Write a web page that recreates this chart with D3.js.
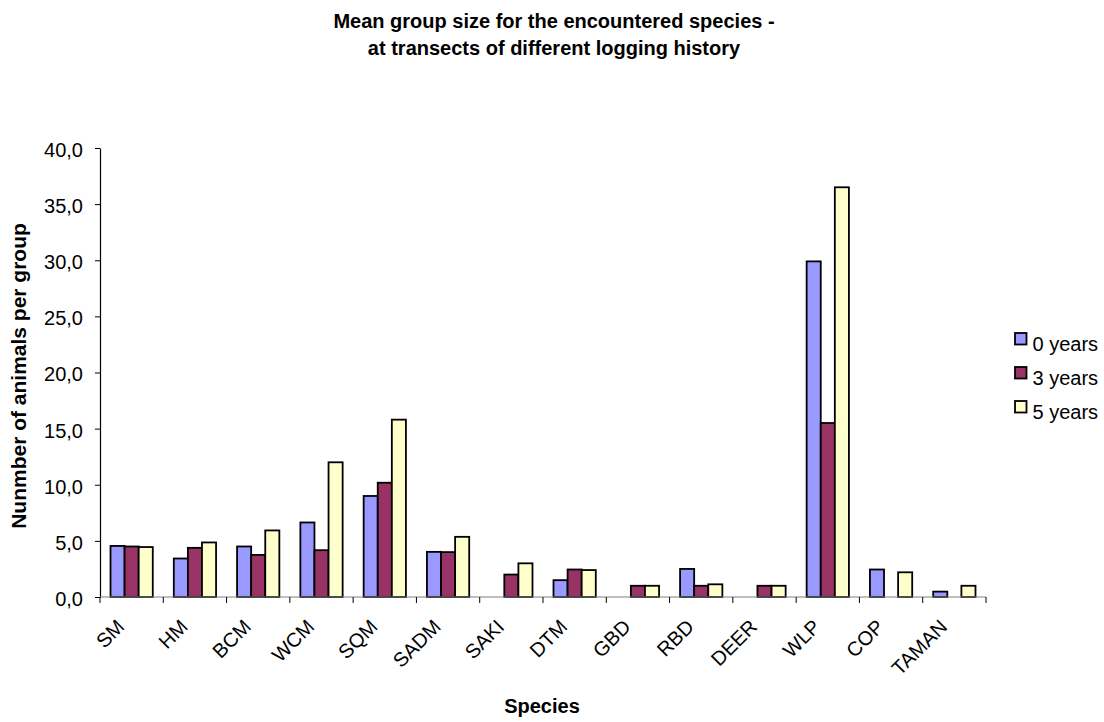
<!DOCTYPE html>
<html>
<head>
<meta charset="utf-8">
<script src="https://cdn.jsdelivr.net/npm/d3@7"></script>
<style>
    body { margin: 0; background: #fff; }
    svg { font-family: "Liberation Sans", Arial, sans-serif; }
</style>
</head>
<body>
<svg id="chart" width="1104" height="722"></svg>
<script>
// Chart data
let species = ["SM", "HM", "BCM", "WCM", "SQM", "SADM", "SAKI", "DTM", "GBD", "RBD", "DEER", "WLP", "COP", "TAMAN"];
let seriesNames = ["0 years", "3 years", "5 years"];
let years0 = [4.55, 3.43, 4.5, 6.64, 9.0, 4.02, 0, 1.5, 0, 2.5, 0, 29.9, 2.45, 0.48];
let years3 = [4.5, 4.38, 3.75, 4.17, 10.18, 4.0, 2.0, 2.45, 1.0, 1.0, 1.0, 15.5, 0, 0];
let years5 = [4.45, 4.86, 5.93, 12.0, 15.8, 5.36, 3.0, 2.4, 1.0, 1.13, 1.0, 36.5, 2.2, 1.0];
let yTicks = [0, 5, 10, 15, 20, 25, 30, 35, 40];
let colors = ["#9999ff", "#993366", "#ffffcc"];

let svg = d3.select("#chart");
let margin = {left: 100, right: 118, top: 148, bottom: 125};
let width = 1104, height = 722;
let plotW = width - margin.left - margin.right;
let plotH = height - margin.top - margin.bottom;

let x = d3.scaleBand().domain(species).range([0, plotW]).padding(0);
let inner = d3.scaleBand().domain(seriesNames)
    .range([x.bandwidth() * 0.166, x.bandwidth() * 0.834]);
let y = d3.scaleLinear().domain([0, 40]).range([plotH, 0]);

let g = svg.append("g").attr("transform", "translate(" + margin.left + "," + margin.top + ")");

// Build rows
let rows = species.map(function (s, i) {
    return {name: s, values: [years0[i], years3[i], years5[i]]};
});

// Bars
let groups = g.selectAll("g.cat")
    .data(rows)
    .enter()
    .append("g")
    .attr("class", "cat")
    .attr("transform", function (d) { return "translate(" + x(d.name) + ",0)"; });

groups.selectAll("rect")
    .data(function (d) {
        return d.values.map(function (v, i) { return {series: seriesNames[i], value: v, idx: i}; })
            .filter(function (e) { return e.value > 0; });
    })
    .enter()
    .append("rect")
    .attr("x", function (d) { return inner(d.series); })
    .attr("y", function (d) { return y(d.value); })
    .attr("width", inner.bandwidth())
    .attr("height", function (d) { return plotH - y(d.value); })
    .attr("fill", function (d) { return colors[d.idx]; })
    .attr("stroke", "#000")
    .attr("stroke-width", 1.8);

// Y axis
let yAxis = g.append("g")
    .call(d3.axisLeft(y).tickValues(yTicks).tickSize(5).tickSizeOuter(0).tickPadding(12)
        .tickFormat(function (d) { return d3.format(".1f")(d).replace(".", ","); }));
yAxis.select(".domain").attr("stroke", "#000").attr("stroke-width", 1.2);
yAxis.selectAll(".tick line").attr("stroke", "#000");
yAxis.selectAll("text").attr("font-size", 20).attr("fill", "#000").attr("dy", "0.42em");

// X axis
let xAxis = g.append("g")
    .attr("transform", "translate(0," + plotH + ")");
xAxis.append("line")
    .attr("x1", 0).attr("x2", plotW)
    .attr("stroke", "#808080").attr("stroke-width", 1.2);
xAxis.selectAll("line.tick")
    .data(species.concat(["end"]))
    .enter()
    .append("line")
    .attr("class", "tick")
    .attr("x1", function (d, i) { return i < species.length ? x(d) : plotW; })
    .attr("x2", function (d, i) { return i < species.length ? x(d) : plotW; })
    .attr("y1", 0).attr("y2", 6)
    .attr("stroke", "#000");
xAxis.selectAll("text")
    .data(species)
    .enter()
    .append("text")
    .attr("text-anchor", "end")
    .attr("font-size", 20)
    .attr("transform", function (d) {
        return "translate(" + (x(d) + x.bandwidth() / 2 - 6) + ",31) rotate(-45)";
    })
    .text(function (d) { return d; });

// Titles
svg.append("text")
    .attr("x", 554).attr("y", 28)
    .attr("text-anchor", "middle")
    .attr("font-size", 20).attr("font-weight", "bold")
    .text("Mean group size for the encountered species -");
svg.append("text")
    .attr("x", 554).attr("y", 55)
    .attr("text-anchor", "middle")
    .attr("font-size", 20).attr("font-weight", "bold")
    .text("at transects of different logging history");

svg.append("text")
    .attr("transform", "translate(26,376) rotate(-90)")
    .attr("text-anchor", "middle")
    .attr("font-size", 21).attr("font-weight", "bold")
    .text("Nunmber of animals per group");

svg.append("text")
    .attr("x", 542).attr("y", 713)
    .attr("text-anchor", "middle")
    .attr("font-size", 20).attr("font-weight", "bold")
    .text("Species");

// Legend
let legend = svg.append("g")
    .attr("transform", "translate(1015,333)");
let items = legend.selectAll("g")
    .data(seriesNames)
    .enter()
    .append("g")
    .attr("transform", function (d, i) { return "translate(0," + (i * 34) + ")"; });
items.append("rect")
    .attr("width", 11.5).attr("height", 11.5)
    .attr("fill", function (d, i) { return colors[i]; })
    .attr("stroke", "#000").attr("stroke-width", 1.8);
items.append("text")
    .attr("x", 17.5).attr("y", 18)
    .attr("font-size", 20)
    .text(function (d) { return d; });
</script>
</body>
</html>
